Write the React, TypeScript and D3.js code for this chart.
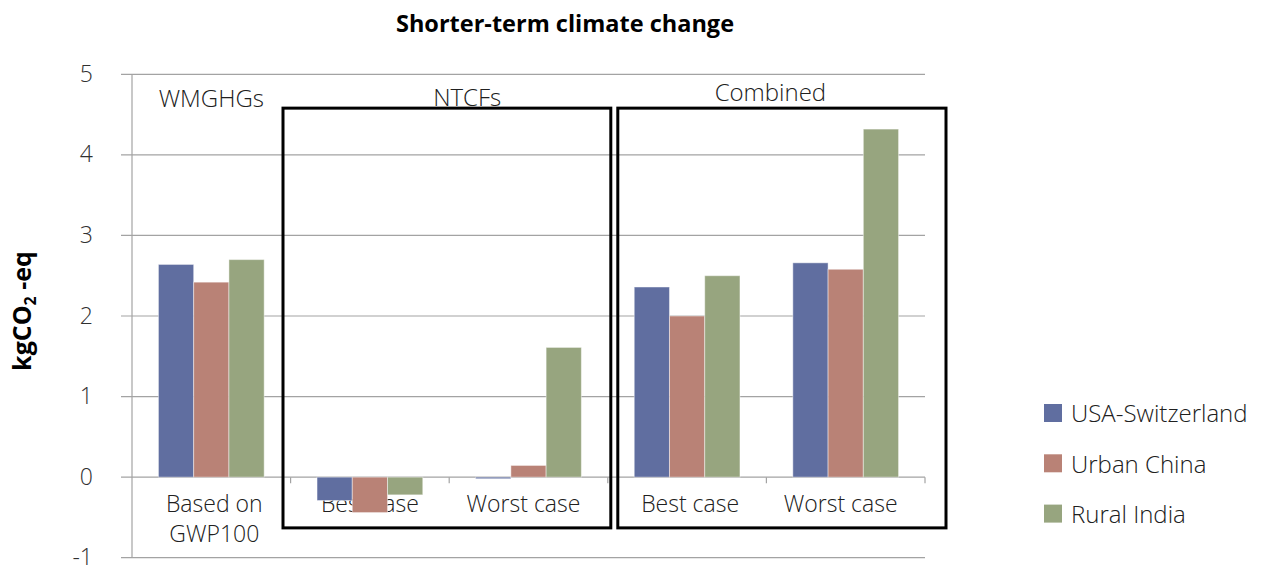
import React from "react";
import * as d3 from "d3";

const categories = ["Based on|GWP100", "Best case", "Worst case", "Best case", "Worst case"];
const seriesNames = ["USA-Switzerland", "Urban China", "Rural India"];
const usaSwitzerland = [2.64, -0.29, -0.02, 2.36, 2.66];
const urbanChina = [2.42, -0.44, 0.145, 2.0, 2.58];
const ruralIndia = [2.7, -0.22, 1.61, 2.5, 4.32];
const yTicks = [-1, 0, 1, 2, 3, 4, 5];
const groupLabels = ["WMGHGs", "NTCFs", "Combined"];
const colors = ["#606ea0", "#b98276", "#97a57f"];

const W = 1263;
const H = 571;
const FONT = "'Open Sans', 'Noto Sans', sans-serif";

export default function App() {
  const series = [usaSwitzerland, urbanChina, ruralIndia];
  const idx = categories.map((_, i) => i);
  const x = d3.scaleBand<number>().domain(idx).range([132, 925]).paddingInner(0).paddingOuter(0);
  const xs = d3.scaleBand<number>().domain([0, 1, 2]).range([0, x.bandwidth()]).paddingInner(0).paddingOuter(0.75);
  const y = d3.scaleLinear().domain([-1, 5]).range([557.7, 74.3]);
  const bw = x.bandwidth();
  const x0 = x(0)!;
  const xEnd = x(4)! + bw;

  const boxes = [
    { l: x(1)! - 7.6, r: x(2)! + bw + 3 },
    { l: x(3)! + 10, r: x(4)! + bw + 21 },
  ];
  const boxTop = y(4.58);
  const boxBottom = y(-0.63);

  const groupPos = [
    { cx: x(0)! + bw / 2, by: 107 },
    { cx: (x(1)! + x(2)! + bw) / 2 + 18, by: 106 },
    { cx: (x(3)! + x(4)! + bw) / 2 + 4, by: 101 },
  ];
  const labelShift = [3, 0, -5, 3, -5];

  return (
    <svg width={W} height={H} style={{ position: "absolute", left: 0, top: 0 }} fontFamily={FONT}>
      <rect width={W} height={H} fill="#fff" />
      <text x={565} y={32} textAnchor="middle" fontWeight={700} fontSize={23.5} fill="#000">
        Shorter-term climate change
      </text>
      {/* gridlines */}
      {yTicks.map((t) => (
        <line key={"g" + t} x1={121} x2={xEnd} y1={y(t)} y2={y(t)} stroke="#a3a3a3" strokeWidth={1.2} />
      ))}
      <line x1={x0} x2={x0} y1={y(5)} y2={y(-1)} stroke="#a3a3a3" strokeWidth={1.2} />
      {/* category ticks */}
      {idx.map((i) => (
        <line key={"t" + i} x1={x(i)! + bw} x2={x(i)! + bw} y1={y(0)} y2={y(0) + 6} stroke="#a3a3a3" strokeWidth={1.2} />
      ))}
      {/* y tick labels */}
      {yTicks.map((t) => (
        <text key={"yl" + t} x={93} y={y(t) + 7.5} textAnchor="end" fontSize={23} fontWeight={300} fill="#303030">
          {t}
        </text>
      ))}
      {/* y axis title */}
      <text transform={`translate(31,311) rotate(-90)`} textAnchor="middle" fontWeight={700} fontSize={25} fill="#000">
        kgCO<tspan fontSize={16} dy={5}>2</tspan>
        <tspan dy={-5}> -eq</tspan>
      </text>
      {/* x labels */}
      {categories.map((c, i) =>
        c.split("|").map((line, j) => (
          <text key={"xl" + i + j} x={x(i)! + bw / 2 + labelShift[i]} y={512 + j * 30} textAnchor="middle" fontSize={23} fontWeight={300} fill="#202020">
            {line}
          </text>
        ))
      )}
      {/* bars */}
      {series.map((vals, s) =>
        vals.map((v, i) => (
          <rect
            key={"b" + s + "-" + i}
            x={x(i)! + xs(s)!}
            width={xs.bandwidth()}
            y={y(Math.max(0, v))}
            height={Math.abs(y(v) - y(0))}
            fill={colors[s]}
            stroke="#ffffff"
            strokeOpacity={0.45}
            strokeWidth={1}
          />
        ))
      )}
      {/* group labels */}
      {groupLabels.map((g, i) => (
        <text key={"gl" + i} x={groupPos[i].cx} y={groupPos[i].by} textAnchor="middle" fontSize={24} fontWeight={300} fill="#202020">
          {g}
        </text>
      ))}
      {/* boxes */}
      {boxes.map((b, i) => (
        <rect key={"box" + i} x={b.l} y={boxTop} width={b.r - b.l} height={boxBottom - boxTop} fill="none" stroke="#000" strokeWidth={3} />
      ))}
      {/* legend */}
      {seriesNames.map((n, i) => (
        <g key={"lg" + i} transform={`translate(1044,${404 + i * 50.3})`}>
          <rect width={18} height={18} fill={colors[i]} />
          <text x={27} y={18.3} fontSize={24} fontWeight={300} fill="#202020">
            {n}
          </text>
        </g>
      ))}
    </svg>
  );
}
